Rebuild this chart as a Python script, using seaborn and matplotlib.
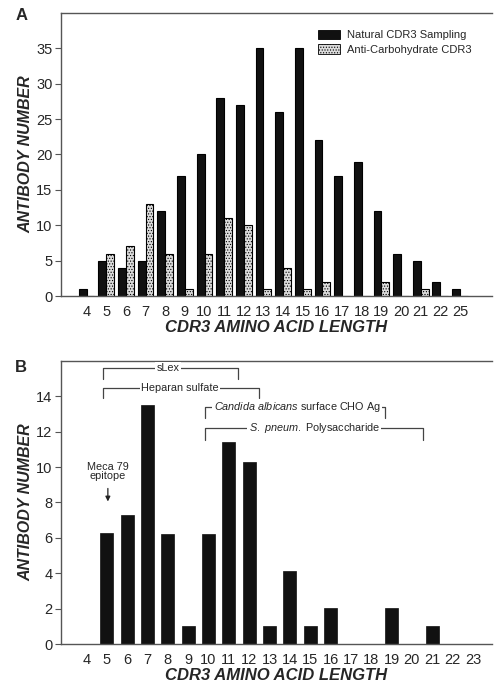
import numpy as np
import pandas as pd
import matplotlib
matplotlib.use("Agg")
from matplotlib import pyplot as plt
import seaborn as sns

# panel A data
lengths_a = ['4', '5', '6', '7', '8', '9', '10', '11', '12', '13', '14', '15',
             '16', '17', '18', '19', '20', '21', '22', '25']
natural = [1, 5, 4, 5, 12, 17, 20, 28, 27, 35, 26, 35, 22, 17, 19, 12, 6, 5, 2, 1]
anti_carb = [0, 6, 7, 13, 6, 1, 6, 11, 10, 1, 4, 1, 2, 0, 0, 2, 0, 1, 0, 0]
series_names = ['Natural CDR3 Sampling', 'Anti-Carbohydrate CDR3']

# panel B data
lengths_b = [str(i) for i in range(4, 24)]
counts_b = [0, 6.27, 7.28, 13.52, 6.23, 1.03, 6.23, 11.4, 10.3, 1.03, 4.13, 1.03,
            2.04, 0, 0, 2.04, 0, 1.03, 0, 0]

sns.set_style("white")
plt.rcParams['font.family'] = ['Liberation Sans', 'DejaVu Sans']
plt.rcParams['mathtext.fontset'] = 'custom'
plt.rcParams['mathtext.rm'] = 'Liberation Sans'
plt.rcParams['mathtext.it'] = 'Liberation Sans:italic'
plt.rcParams['hatch.linewidth'] = 0.5
plt.rcParams['hatch.color'] = '#666666'

fig = plt.figure(figsize=(4.95, 6.83), dpi=100)
ax_a = fig.add_axes([0.123, 0.5666, 0.871, 0.4144])
ax_b = fig.add_axes([0.123, 0.0571, 0.871, 0.4144])

df_a = pd.DataFrame({'length': lengths_a * 2,
                     'count': natural + anti_carb,
                     'series': [series_names[0]] * len(lengths_a) + [series_names[1]] * len(lengths_a)})

sns.barplot(data=df_a, x='length', y='count', hue='series', order=lengths_a,
            hue_order=series_names, palette=['#111111', '#dcdcdc'],
            edgecolor='black', linewidth=0.8, width=0.8, ax=ax_a)
for p in ax_a.containers[1]:
    p.set_hatch('......')

sns.barplot(x=lengths_b, y=counts_b, color='#111111', edgecolor='#111111',
            linewidth=0.5, width=0.65, ax=ax_b)

for ax in (ax_a, ax_b):
    for side in ['top', 'left', 'bottom']:
        ax.spines[side].set_color('#555555')
        ax.spines[side].set_linewidth(1.0)
    ax.spines['right'].set_visible(False)
    ax.tick_params(axis='y', which='both', left=True, length=4, width=0.8,
                   color='#555555', labelsize=10.5, pad=2)
    ax.tick_params(axis='x', bottom=False, labelsize=10.5, pad=3)
    ax.set_ylabel('ANTIBODY NUMBER', fontsize=11.5, fontweight='bold',
                  fontstyle='italic', labelpad=2)
    ax.set_xlabel('CDR3 AMINO ACID LENGTH', fontsize=12, fontweight='bold',
                  fontstyle='italic', labelpad=1)

ax_a.set_xlim(-1.31, 20.63)
ax_a.set_ylim(0, 40)
ax_a.set_yticks(range(0, 36, 5))
ax_b.set_xlim(-1.26, 19.94)
ax_b.set_ylim(0, 16)
ax_b.set_yticks(range(0, 15, 2))

leg = ax_a.legend(loc='upper right', bbox_to_anchor=(0.975, 0.975), frameon=False,
                  fontsize=8, handlelength=2.0, handleheight=0.9,
                  labelspacing=0.35, handletextpad=0.6)
for h in leg.legend_handles:
    h.set_edgecolor('black')
    h.set_linewidth(0.6)
leg.legend_handles[1].set_hatch('......')

fig.text(22 / 495, 1 - 15 / 683, 'A', fontsize=12, fontweight='bold', ha='center', va='center')
fig.text(21 / 495, 1 - 368 / 683, 'B', fontsize=12, fontweight='bold', ha='center', va='center')

# brackets in panel B
line_kw = dict(color='#444444', lw=0.9)
txt_kw = dict(fontsize=7.8, ha='center', va='center',
              bbox=dict(facecolor='white', edgecolor='none', pad=1.0))
pos = {c: i for i, c in enumerate(lengths_b)}

def bracket(ax, x0, x1, y, drop):
    ax.plot([x0, x0, x1, x1], [y - drop, y, y, y - drop], **line_kw)

# sLex
bracket(ax_b, pos['5'] - 0.2, pos['11'] + 0.45, 15.6, 0.6)
ax_b.text(4.0, 15.6, 'sLex', **txt_kw)
# Heparan sulfate
bracket(ax_b, pos['5'] - 0.2, pos['12'] + 0.5, 14.5, 0.6)
ax_b.text(4.6, 14.5, 'Heparan sulfate', **txt_kw)
# Candida albicans
bracket(ax_b, pos['10'] - 0.18, pos['18'] + 0.67, 13.4, 0.65)
ax_b.text(10.35, 13.4, r'$\it{Candida\ albicans}$ surface CHO Ag', **txt_kw)
# S. pneum.
bracket(ax_b, pos['10'] - 0.18, pos['20'] + 0.53, 12.2, 0.65)
ax_b.text(11.2, 12.2, r'$\it{S.\ pneum.}$ Polysaccharide', **txt_kw)

# Meca 79 epitope
ax_b.text(pos['5'] + 0.05, 9.75, 'Meca 79\nepitope', fontsize=7.8, ha='center',
          va='center', linespacing=0.95)
ax_b.annotate('', xy=(pos['5'] + 0.05, 7.9), xytext=(pos['5'] + 0.05, 8.95),
              arrowprops=dict(arrowstyle='-|>', color='#222222', lw=0.9,
                              mutation_scale=7))

fig.savefig('out.png', dpi=100)
